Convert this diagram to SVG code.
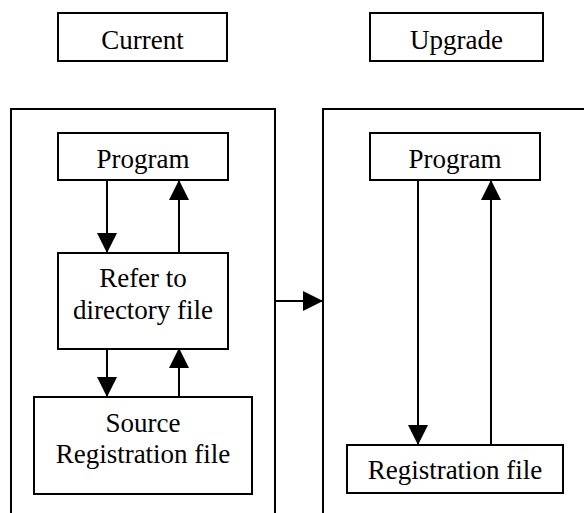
<svg xmlns="http://www.w3.org/2000/svg" width="584" height="513" viewBox="0 0 584 513">
<defs>
<marker id="ah" markerUnits="userSpaceOnUse" markerWidth="20" markerHeight="20" viewBox="0 0 20 20" refX="19" refY="10" orient="auto">
<path d="M0,0 L20,10 L0,20 Z" fill="#000"/>
</marker>
</defs>
<style>
.box{fill:#fff;stroke:#000;stroke-width:2}
.frame{fill:none;stroke:#000;stroke-width:2}
.t{font-family:'Liberation Serif','Times New Roman',Times,serif;font-size:27px;fill:#000;text-anchor:middle}
.c{stroke:#000;stroke-width:2;fill:none;marker-end:url(#ah)}
</style>
<rect width="584" height="513" fill="#fff"/>
<g id="current-label"><rect class="box" x="58" y="13" width="169" height="48"/><text class="t" x="142.5" y="49">Current</text></g>
<g id="upgrade-label"><rect class="box" x="370" y="13" width="173" height="48"/><text class="t" x="456.5" y="49">Upgrade</text></g>
<g id="current-frame"><path class="frame" d="M11,513 V109 H275 V513"/></g>
<g id="upgrade-frame"><path class="frame" d="M323,513 V109 H584"/></g>
<g id="program-left"><rect class="box" x="58" y="133" width="170" height="47"/><text class="t" x="143" y="168">Program</text></g>
<g id="refer"><rect class="box" x="58" y="253" width="170" height="96"/><text class="t" x="143" y="287">Refer to</text><text class="t" x="143" y="319">directory file</text></g>
<g id="source"><rect class="box" x="34" y="397" width="218" height="97"/><text class="t" x="143" y="432">Source</text><text class="t" x="143" y="463">Registration file</text></g>
<g id="program-right"><rect class="box" x="370" y="133" width="170" height="47"/><text class="t" x="455" y="168">Program</text></g>
<g id="registration"><rect class="box" x="347" y="445" width="216" height="48"/><text class="t" x="455" y="479">Registration file</text></g>
<g id="connectors">
<line class="c" x1="107" y1="180" x2="107" y2="252"/>
<line class="c" x1="179" y1="253" x2="179" y2="181"/>
<line class="c" x1="107" y1="349" x2="107" y2="396"/>
<line class="c" x1="179" y1="397" x2="179" y2="349"/>
<line class="c" x1="418" y1="180" x2="418" y2="444"/>
<line class="c" x1="491" y1="445" x2="491" y2="181"/>
<line class="c" x1="275" y1="301" x2="322" y2="301"/>
</g>
</svg>
